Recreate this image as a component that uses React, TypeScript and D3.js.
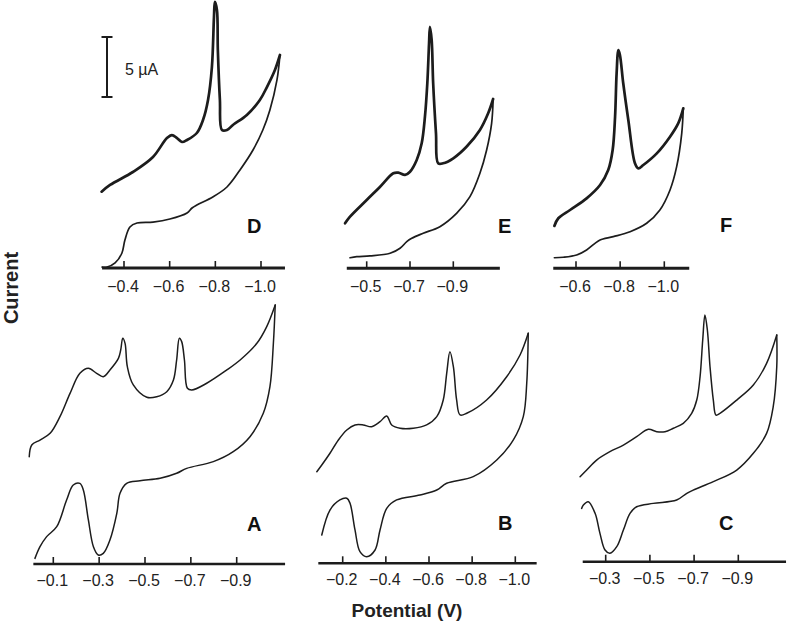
import React from "react";
import * as d3 from "d3";

// ---------- data: potential (V), current (µA) ----------
const D_forward: [number, number][] = [[-0.302,6.36],[-0.339,6.92],[-0.439,8.0],[-0.527,9.25],[-0.588,10.83],[-0.610,11.08],[-0.632,10.83],[-0.654,10.5],[-0.676,10.67],[-0.719,11.25],[-0.746,12.33],[-0.768,14.0],[-0.785,16.75],[-0.794,20.9],[-0.798,22.17],[-0.807,21.5],[-0.811,18.17],[-0.820,14.0],[-0.829,11.5],[-0.851,11.5],[-0.877,11.92],[-0.938,12.75],[-0.995,14.0],[-1.026,15.08],[-1.061,16.5],[-1.083,17.75]];
const D_return: [number, number][] = [[-1.083,17.75],[-1.070,15.67],[-1.039,13.17],[-1.008,11.5],[-0.965,9.83],[-0.908,8.17],[-0.851,6.75],[-0.789,5.92],[-0.719,5.25],[-0.698,5.0],[-0.676,4.58],[-0.601,4.08],[-0.527,3.83],[-0.457,3.75],[-0.426,3.42],[-0.404,2.33],[-0.391,1.25],[-0.361,0.42],[-0.326,0.08],[-0.304,0.08]];

const E_forward: [number, number][] = [[-0.400,3.75],[-0.423,4.30],[-0.500,5.69],[-0.561,6.78],[-0.623,7.92],[-0.646,7.97],[-0.677,7.78],[-0.700,8.05],[-0.731,9.03],[-0.754,10.42],[-0.769,12.63],[-0.780,15.42],[-0.788,18.75],[-0.792,20.13],[-0.800,19.03],[-0.807,15.42],[-0.820,11.25],[-0.830,8.75],[-0.853,8.75],[-0.900,9.17],[-0.961,10.13],[-1.023,11.53],[-1.061,12.92],[-1.084,14.11]];
const E_return: [number, number][] = [[-1.084,14.11],[-1.077,12.08],[-1.054,9.86],[-1.023,7.92],[-0.977,5.97],[-0.915,4.58],[-0.838,3.47],[-0.761,2.92],[-0.708,2.5],[-0.685,2.22],[-0.654,1.67],[-0.608,1.25],[-0.515,1.03],[-0.454,0.97],[-0.423,0.88]];

const F_forward: [number, number][] = [[-0.502,3.53],[-0.520,4.17],[-0.573,4.86],[-0.648,5.83],[-0.709,6.94],[-0.746,8.19],[-0.766,9.86],[-0.777,12.63],[-0.784,16.25],[-0.792,18.19],[-0.799,17.78],[-0.814,15.42],[-0.837,12.36],[-0.867,8.75],[-0.882,8.33],[-0.905,8.61],[-0.966,9.58],[-1.026,10.97],[-1.063,12.08],[-1.086,13.33]];
const F_return: [number, number][] = [[-1.086,13.33],[-1.079,11.25],[-1.056,8.47],[-1.026,6.53],[-0.980,4.86],[-0.920,3.75],[-0.845,3.05],[-0.769,2.64],[-0.709,2.36],[-0.686,2.08],[-0.648,1.53],[-0.603,1.11],[-0.542,0.92],[-0.502,0.88]];

const A_forward: [number, number][] = [[0.005,8.94],[-0.006,9.92],[-0.042,10.33],[-0.086,10.89],[-0.129,12.28],[-0.173,14.22],[-0.216,15.89],[-0.253,16.31],[-0.289,15.89],[-0.318,15.61],[-0.347,16.17],[-0.384,17.14],[-0.394,17.83],[-0.403,18.81],[-0.413,18.39],[-0.423,16.44],[-0.449,14.92],[-0.508,13.89],[-0.551,13.94],[-0.595,14.36],[-0.624,15.33],[-0.638,17.0],[-0.650,18.81],[-0.660,18.53],[-0.672,17.0],[-0.685,14.64],[-0.704,14.5],[-0.769,15.06],[-0.857,16.17],[-0.915,17.0],[-0.988,18.39],[-1.031,19.78],[-1.068,21.58]];
const A_return: [number, number][] = [[-1.068,21.58],[-1.060,18.39],[-1.045,14.78],[-1.016,12.56],[-0.958,10.61],[-0.885,9.36],[-0.798,8.53],[-0.682,7.97],[-0.638,7.56],[-0.566,7.14],[-0.478,6.94],[-0.420,6.72],[-0.391,5.89],[-0.377,4.22],[-0.347,2.0],[-0.318,0.89],[-0.296,0.75],[-0.275,1.44],[-0.253,3.67],[-0.231,6.17],[-0.216,6.72],[-0.187,6.58],[-0.158,5.33],[-0.115,3.11],[-0.071,2.28],[-0.042,1.44],[-0.020,0.47]];

const B_forward: [number, number][] = [[-0.080,7.63],[-0.103,8.19],[-0.141,9.17],[-0.180,10.28],[-0.219,11.11],[-0.257,11.53],[-0.295,11.53],[-0.334,11.38],[-0.373,11.8],[-0.404,12.28],[-0.427,11.53],[-0.466,11.25],[-0.527,11.25],[-0.589,11.53],[-0.636,12.22],[-0.666,13.61],[-0.682,15.83],[-0.697,17.63],[-0.713,16.38],[-0.728,13.61],[-0.744,12.36],[-0.775,12.5],[-0.867,13.61],[-0.960,15.55],[-1.022,17.36],[-1.060,19.17]];
const B_return: [number, number][] = [[-1.060,19.17],[-1.053,15.0],[-1.037,12.22],[-0.991,10.28],[-0.914,8.61],[-0.805,7.22],[-0.682,6.67],[-0.636,6.11],[-0.558,5.69],[-0.450,5.28],[-0.404,4.58],[-0.373,2.78],[-0.350,1.11],[-0.311,0.55],[-0.280,0.97],[-0.257,2.78],[-0.234,5.0],[-0.219,5.42],[-0.187,5.28],[-0.141,4.44],[-0.103,2.36]];

const C_forward: [number, number][] = [[-0.184,7.08],[-0.214,7.64],[-0.259,8.47],[-0.319,9.17],[-0.380,9.72],[-0.440,10.42],[-0.493,11.03],[-0.531,10.83],[-0.568,10.83],[-0.606,11.12],[-0.651,11.53],[-0.689,12.36],[-0.712,13.47],[-0.727,15.42],[-0.739,18.47],[-0.749,20.56],[-0.760,19.31],[-0.772,16.25],[-0.787,13.47],[-0.799,12.22],[-0.817,12.36],[-0.893,13.47],[-0.968,14.72],[-1.028,16.53],[-1.074,18.89]];
const C_return: [number, number][] = [[-1.074,18.89],[-1.074,16.25],[-1.058,12.92],[-1.028,10.69],[-0.968,9.03],[-0.893,7.64],[-0.787,6.67],[-0.696,5.97],[-0.667,5.7],[-0.621,5.14],[-0.515,4.86],[-0.440,4.58],[-0.410,4.03],[-0.380,2.64],[-0.350,1.25],[-0.319,0.70],[-0.297,0.97],[-0.274,2.36],[-0.252,4.03],[-0.221,5.0],[-0.199,4.72],[-0.191,4.44]];

const D_ticks = [-0.4, -0.6, -0.8, -1.0];
const E_ticks = [-0.5, -0.7, -0.9];
const F_ticks = [-0.6, -0.8, -1.0];
const A_ticks = [-0.1, -0.3, -0.5, -0.7, -0.9];
const B_ticks = [-0.2, -0.4, -0.6, -0.8, -1.0];
const C_ticks = [-0.3, -0.5, -0.7, -0.9];

const panelLetters = ["D", "E", "F", "A", "B", "C"];
const scaleBarValue = 5; // µA
const xTitle = "Potential (V)";
const yTitle = "Current";

// ---------- layout ----------
const W = 787, H = 623;
const PX_PER_UA = 12;
const INK = "#1c1c1c";
const FONT = "'Liberation Sans', Arial, Helvetica, sans-serif";

type Layout = {
  ref: [number, number]; px: [number, number]; axisV: [number, number];
  baseY: number; letter: [number, number]; top: boolean;
};
const layouts: Layout[] = [
  { ref: [-0.4, -1.0], px: [124, 261], axisV: [-0.304, -1.105], baseY: 268, letter: [247, 233], top: true },
  { ref: [-0.5, -0.9], px: [366.7, 453.3], axisV: [-0.408, -1.115], baseY: 268.3, letter: [498, 233], top: true },
  { ref: [-0.6, -1.0], px: [576, 664.3], axisV: [-0.497, -1.113], baseY: 268.3, letter: [720, 232], top: true },
  { ref: [-0.1, -0.9], px: [53.3, 236.7], axisV: [-0.013, -1.111], baseY: 564, letter: [247, 531], top: false },
  { ref: [-0.2, -1.0], px: [342.7, 515.3], axisV: [-0.087, -1.099], baseY: 563.3, letter: [498, 530], top: false },
  { ref: [-0.3, -0.9], px: [605.7, 738.3], axisV: [-0.196, -1.116], baseY: 561.7, letter: [719, 530], top: false },
];
const forwards = [D_forward, E_forward, F_forward, A_forward, B_forward, C_forward];
const returns = [D_return, E_return, F_return, A_return, B_return, C_return];
const ticks = [D_ticks, E_ticks, F_ticks, A_ticks, B_ticks, C_ticks];

const fmt = (v: number) => "\u2212" + Math.abs(v).toFixed(1);

function Panel({ i }: { i: number }) {
  const L = layouts[i];
  const x = d3.scaleLinear().domain(L.ref).range(L.px);
  const y = d3.scaleLinear().domain([0, 1]).range([L.baseY, L.baseY - PX_PER_UA]);
  const line = d3.line<[number, number]>()
    .x((d) => x(d[0]))
    .y((d) => y(d[1]))
    .curve(d3.curveCatmullRom.alpha(0.5));
  const fwdW = L.top ? 2.7 : 1.5;
  const revW = L.top ? 1.7 : 1.5;
  const axisW = L.top ? 3 : 2.6;
  const labelDy = L.top ? 24 : 22;
  return (
    <g>
      <path d={line(forwards[i]) || ""} fill="none" stroke={INK} strokeWidth={fwdW} strokeLinejoin="round" strokeLinecap="round" />
      <path d={line(returns[i]) || ""} fill="none" stroke={INK} strokeWidth={revW} strokeLinejoin="round" strokeLinecap="round" />
      <line x1={x(L.axisV[0])} x2={x(L.axisV[1])} y1={L.baseY} y2={L.baseY} stroke={INK} strokeWidth={axisW} />
      {ticks[i].map((t) => (
        <g key={t}>
          <line x1={x(t)} x2={x(t)} y1={L.baseY} y2={L.baseY - 7} stroke={INK} strokeWidth={1.6} />
          <text x={x(t) - 1} y={L.baseY + labelDy} textAnchor="middle" fontSize={16} fontFamily={FONT} fill="#222">
            {fmt(t)}
          </text>
        </g>
      ))}
      <text x={L.letter[0]} y={L.letter[1]} fontSize={20} fontWeight="bold" fontFamily={FONT} fill="#111">
        {panelLetters[i]}
      </text>
    </g>
  );
}

export default function App() {
  const L = layouts[0];
  const yD = d3.scaleLinear().domain([0, 1]).range([L.baseY, L.baseY - PX_PER_UA]);
  const barTop = yD(19.25);
  const barBot = yD(19.25 - scaleBarValue);
  const barX = 107;
  return (
    <svg width={W} height={H} style={{ position: "absolute", left: 0, top: 0, background: "#fff" }}>
      <rect width={W} height={H} fill="#fff" />
      {layouts.map((_, i) => <Panel key={i} i={i} />)}
      {/* scale bar */}
      <line x1={barX} x2={barX} y1={barTop} y2={barBot} stroke={INK} strokeWidth={2} />
      <line x1={barX - 5.5} x2={barX + 5.5} y1={barTop} y2={barTop} stroke={INK} strokeWidth={2} />
      <line x1={barX - 5.5} x2={barX + 5.5} y1={barBot} y2={barBot} stroke={INK} strokeWidth={2} />
      <text x={125} y={75} fontSize={16} fontFamily={FONT} fill="#222">{scaleBarValue + " \u00B5A"}</text>
      {/* axis titles */}
      <text x={407} y={617} textAnchor="middle" fontSize={19} fontWeight="bold" fontFamily={FONT} fill="#222">{xTitle}</text>
      <text transform="translate(18,288) rotate(-90)" textAnchor="middle" fontSize={20} fontWeight="bold" fontFamily={FONT} fill="#222">{yTitle}</text>
    </svg>
  );
}
